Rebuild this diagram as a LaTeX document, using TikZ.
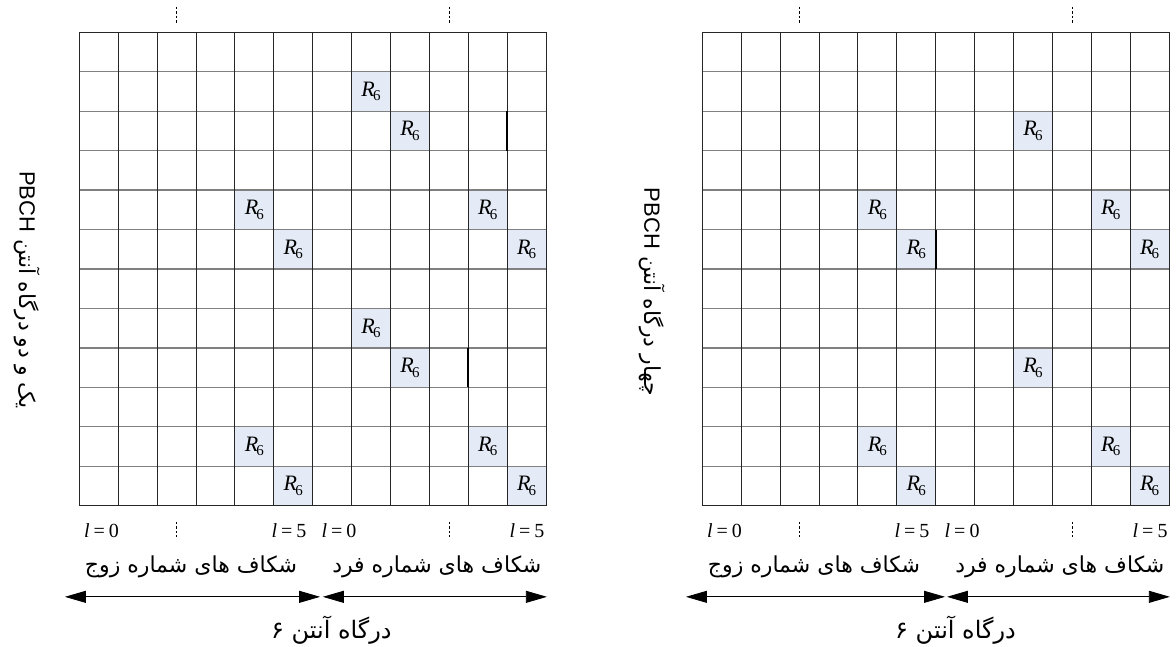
\documentclass[tikz,border=0pt]{standalone}
\usepackage{fontspec}
\setmainfont{Liberation Serif}
\newfontfamily\farsi[Script=Arabic]{DejaVu Sans}
\newfontfamily\latinsans{Liberation Sans}
\TeXXeTstate=1
\usetikzlibrary{arrows.meta}
\definecolor{cellblue}{RGB}{228,235,246}
\newcommand{\Rsix}{\textit{R}\kern-1.8pt\raisebox{-0.45ex}{\fontsize{15}{15}\selectfont 6}}
\newcommand{\lval}[1]{\textit{l}\kern4pt=\kern4pt#1}

\begin{document}
\begin{tikzpicture}[x=1pt, y=-1pt, font=\fontsize{22}{24}\selectfont]
  \tikzset{
    hline/.style={draw=black!50, line width=1.3pt},
    vline/.style={draw=black!85, line width=0.9pt},
    tick/.style={dash pattern=on 2.5pt off 2pt, line width=0.7pt},
    hit/.style={fill=cellblue, minimum width=38.9pt, minimum height=39.45pt, inner sep=0pt},
    span/.style={{Triangle[length=21pt,width=12pt]}-{Triangle[length=21pt,width=12pt]}, line width=0.8pt},
    farsi label/.style={font=\farsi\fontsize{22}{26}\selectfont},
    port label/.style={font=\farsi\fontsize{24}{28}\selectfont},
    side label/.style={font=\farsi\fontsize{22}{26}\selectfont, rotate=-90},
    index/.style={font=\fontsize{20}{24}\selectfont},
  }
  \useasboundingbox (0,0) rectangle (1176,647);

  % ---- left panel: one and two antenna ports ----
  \begin{scope}[shift={(79.3,32.3)}, x=38.9pt, y=-39.45pt]
    % shaded R6 cells (column/row)
    \foreach \c/\r in {7/1, 8/2, 4/4, 10/4, 5/5, 11/5, 7/7, 8/8, 4/10, 10/10, 5/11, 11/11}
      \node[hit] (L-\c-\r) at (\c+0.5,\r+0.5) {\Rsix};
    % grid
    \foreach \i in {0,...,12} \draw[hline] (0,\i) -- (12,\i);
    \foreach \i in {0,...,12} \draw[vline] (\i,0) -- (\i,12);
    \draw[vline] (0,0) rectangle (12,12);
    \draw[line width=1.8pt] (11,2) -- (11,3);
    \draw[line width=1.8pt] (10,8) -- (10,9);
    % dashed ticks
    \foreach \x in {2.5,9.5} {
      \draw[tick] (\x,-0.65) -- (\x,-0.23);
      \draw[tick] (\x,12.41) -- (\x,12.79);
    }
    % symbol indices
    \node[index, anchor=west] (L-e0) at (0.03,12.62) {\lval{0}};
    \node[index, anchor=east] (L-e5) at (5.93,12.62) {\lval{5}};
    \node[index, anchor=west] (L-o0) at (6.14,12.62) {\lval{0}};
    \node[index, anchor=east] (L-o5) at (12.05,12.62) {\lval{5}};
    % slot labels and arrows
    \node[farsi label] (L-even) at (2.87,13.55) {\beginR شکاف های شماره زوج\endR};
    \node[farsi label] (L-odd) at (9.19,13.55) {\beginR شکاف های شماره فرد\endR};
    \coordinate (L-a0) at (-0.37,14.31);
    \coordinate (L-a1) at (6.19,14.31);
    \coordinate (L-a2) at (6.26,14.31);
    \coordinate (L-a3) at (12.02,14.31);
    \draw[span] (L-a0) -- (L-a1);
    \draw[span] (L-a2) -- (L-a3);
    \node[port label] (L-port) at (6.48,15.15) {\beginR درگاه آنتن ۶\endR};
    \node[side label] (L-side) at (-1.34,6.53) {\beginR یک و دو درگاه آنتن \beginL{\latinsans PBCH}\endL\endR};
  \end{scope}

  % ---- right panel: four antenna ports ----
  \begin{scope}[shift={(702.3,32.3)}, x=38.9pt, y=-39.45pt]
    % shaded R6 cells (column/row)
    \foreach \c/\r in {8/2, 4/4, 10/4, 5/5, 11/5, 8/8, 4/10, 10/10, 5/11, 11/11}
      \node[hit] (R-\c-\r) at (\c+0.5,\r+0.5) {\Rsix};
    % grid
    \foreach \i in {0,...,12} \draw[hline] (0,\i) -- (12,\i);
    \foreach \i in {0,...,12} \draw[vline] (\i,0) -- (\i,12);
    \draw[vline] (0,0) rectangle (12,12);
    \draw[line width=1.8pt] (6,5) -- (6,6);
    % dashed ticks
    \foreach \x in {2.5,9.5} {
      \draw[tick] (\x,-0.65) -- (\x,-0.23);
      \draw[tick] (\x,12.41) -- (\x,12.79);
    }
    % symbol indices
    \node[index, anchor=west] (R-e0) at (0.03,12.62) {\lval{0}};
    \node[index, anchor=east] (R-e5) at (5.93,12.62) {\lval{5}};
    \node[index, anchor=west] (R-o0) at (6.14,12.62) {\lval{0}};
    \node[index, anchor=east] (R-o5) at (12.05,12.62) {\lval{5}};
    % slot labels and arrows
    \node[farsi label] (R-even) at (2.87,13.55) {\beginR شکاف های شماره زوج\endR};
    \node[farsi label] (R-odd) at (9.19,13.55) {\beginR شکاف های شماره فرد\endR};
    \coordinate (R-a0) at (-0.42,14.31);
    \coordinate (R-a1) at (6.24,14.31);
    \coordinate (R-a2) at (6.29,14.31);
    \coordinate (R-a3) at (12.02,14.31);
    \draw[span] (R-a0) -- (R-a1);
    \draw[span] (R-a2) -- (R-a3);
    \node[port label] (R-port) at (6.51,15.15) {\beginR درگاه آنتن ۶\endR};
    \node[side label] (R-side) at (-1.29,6.58) {\beginR چهار درگاه آنتن \beginL{\latinsans PBCH}\endL\endR};
  \end{scope}
\end{tikzpicture}
\end{document}
